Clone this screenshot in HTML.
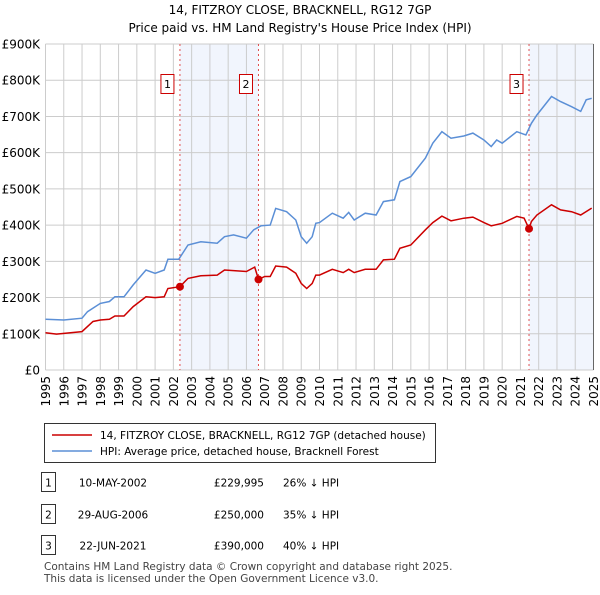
<!DOCTYPE html>
<html><head><meta charset="utf-8"><style>
body{margin:0;background:#fff;font-family:"Liberation Sans","DejaVu Sans",sans-serif;}
svg text{font-family:"DejaVu Sans","Liberation Sans",sans-serif;}
</style></head><body>
<svg id="c" width="600" height="590" xmlns="http://www.w3.org/2000/svg">
<text x="300" y="14" font-size="12" text-anchor="middle">14, FITZROY CLOSE, BRACKNELL, RG12 7GP</text>
<text x="300" y="32" font-size="12" text-anchor="middle">Price paid vs. HM Land Registry's House Price Index (HPI)</text>
<g id="plot"></g>
<g>
<rect x="44.5" y="423.5" width="391" height="39" fill="#fff" stroke="#333"/>
<line x1="52" y1="435" x2="92" y2="435" stroke="#cc0000" stroke-width="1.5"/>
<text x="100" y="439" font-size="10.5">14, FITZROY CLOSE, BRACKNELL, RG12 7GP (detached house)</text>
<line x1="52" y1="451" x2="92" y2="451" stroke="#5b8fd6" stroke-width="1.5"/>
<text x="100" y="455" font-size="10.5">HPI: Average price, detached house, Bracknell Forest</text>
</g>
<g id="table" font-size="10.5"></g>
<text x="44" y="570" font-size="10.5" fill="#444">Contains HM Land Registry data © Crown copyright and database right 2025.</text>
<text x="44" y="582" font-size="10.5" fill="#444">This data is licensed under the Open Government Licence v3.0.</text>
</svg>
<script>
const yTicks=[0,100,200,300,400,500,600,700,800,900];
const yTickLabels=["£0","£100K","£200K","£300K","£400K","£500K","£600K","£700K","£800K","£900K"];
const years=[1995,1996,1997,1998,1999,2000,2001,2002,2003,2004,2005,2006,2007,2008,2009,2010,2011,2012,2013,2014,2015,2016,2017,2018,2019,2020,2021,2022,2023,2024,2025];
const hpiT=[1995,1996,1997,1997.3,1998,1998.5,1998.8,1999.3,1999.8,2000.5,2001,2001.5,2001.7,2002.3,2002.8,2003.5,2004.4,2004.8,2005.3,2006,2006.4,2006.8,2007.3,2007.6,2008.2,2008.7,2009,2009.3,2009.6,2009.8,2010,2010.7,2011.3,2011.6,2011.9,2012.5,2013.1,2013.5,2014.1,2014.4,2015,2015.8,2016.2,2016.7,2017.2,2017.9,2018.4,2019,2019.4,2019.7,2020,2020.8,2021.3,2021.6,2021.9,2022.7,2023.2,2023.8,2024.3,2024.6,2024.9];
const hpiV=[140,138,143,161,184,189,202,202,235,276,267,276,306,306,345,354,350,368,373,364,387,398,400,446,437,414,368,350,368,405,407,433,419,435,414,433,428,465,470,520,534,585,626,658,640,646,654,635,617,635,626,658,649,681,704,755,741,727,714,746,750];
const priceT=[1995,1995.6,1997,1997.6,1998,1998.5,1998.8,1999.3,1999.8,2000.5,2001,2001.5,2001.7,2002.36,2002.8,2003.5,2004.4,2004.8,2006,2006.45,2006.66,2007,2007.3,2007.6,2008.2,2008.7,2009,2009.3,2009.6,2009.8,2010,2010.7,2011.3,2011.6,2011.9,2012.5,2013.1,2013.5,2014.1,2014.4,2015,2015.8,2016.2,2016.7,2017.2,2017.9,2018.4,2019,2019.4,2020,2020.8,2021.2,2021.47,2021.6,2021.9,2022.7,2023.2,2023.8,2024.3,2024.9];
const priceV=[103,99,106,134,138,140,149,149,175,202,200,202,225,230,253,260,262,276,272,284,250,258,258,287,284,267,239,225,239,262,262,278,269,278,269,278,278,304,306,336,345,387,407,425,412,419,422,407,398,405,424,419,390,410,428,456,442,437,428,447];
const saleIds=["1","2","3"];
const saleT=[2002.36,2006.66,2021.47];
const saleV=[229.995,250,390];
const saleDates=["10-MAY-2002","29-AUG-2006","22-JUN-2021"];
const salePrices=["£229,995","£250,000","£390,000"];
const saleHpi=["26% ↓ HPI","35% ↓ HPI","40% ↓ HPI"];

const NS="http://www.w3.org/2000/svg";
const X0=45.5,X1=593.5,Y0=370,Y1=44;
const xs=t=>X0+(t-1995)/30*(X1-X0);
const ys=v=>Y0-v/900*(Y0-Y1);
const plot=document.getElementById('plot');
function mk(tag,attrs,parent){const e=document.createElementNS(NS,tag);for(const k in attrs)e.setAttribute(k,attrs[k]);(parent||plot).appendChild(e);return e;}
// shading
[[saleT[0],saleT[1]],[saleT[2],2025]].forEach((s,i)=>{
 const r=mk('rect',{x:xs(s[0]),y:Y1,width:xs(s[1])-xs(s[0]),height:Y0-Y1,fill:'#eef3fd',opacity:0.8});
 
 
});
yTicks.forEach((v,i)=>{
 const l=mk('line',{x1:X0,x2:X1,y1:ys(v),y2:ys(v),stroke:'#ccc','stroke-width':1});
 
 
 const t=mk('text',{x:40,y:ys(v)+4.5,'font-size':12,'text-anchor':'end'});
 t.textContent=yTickLabels[i];
 
 
});
years.forEach(y=>{
 const l=mk('line',{x1:xs(y),x2:xs(y),y1:Y1,y2:Y0,stroke:'#ccc','stroke-width':1});
 
 
 const t=mk('text',{x:0,y:0,'font-size':12,'text-anchor':'end',transform:`translate(${xs(y)+4.5},376) rotate(-90)`});
 t.textContent=y;
 
 
});
const bl=mk('line',{x1:X1,x2:X1,y1:Y1,y2:Y0,stroke:'#666'});


saleT.forEach((t,i)=>{
 const l=mk('line',{x1:xs(t),x2:xs(t),y1:Y1,y2:Y0,stroke:'#e05050','stroke-dasharray':'2,3','stroke-width':1});
 
 
});
function path(T,V,color,name){
 const d=T.map((t,i)=>(i?'L':'M')+xs(t).toFixed(1)+','+ys(V[i]).toFixed(1)).join('');
 const p=mk('path',{d:d,fill:'none',stroke:color,'stroke-width':1.5});
 
 
}
path(hpiT,hpiV,'#5b8fd6','hpi-line');
path(priceT,priceV,'#cc0000','price-paid-line');
saleT.forEach((t,i)=>{
 const c=mk('circle',{cx:xs(t),cy:ys(saleV[i]),r:4,fill:'#cc0000'});
 
 
 const g=mk('g',{});
 
 
 mk('rect',{x:xs(t)-19,y:74.5,width:13,height:19,fill:'#fff',stroke:'#cc0000'},g);
 const tx=mk('text',{x:xs(t)-12.5,y:88,'font-size':11,'text-anchor':'middle'},g);
 tx.textContent=saleIds[i];
});
const tbl=document.getElementById('table');
const rowY=[483,515,546];
saleIds.forEach((id,i)=>{
 const g=mk('g',{},tbl);
 
 
 mk('rect',{x:41.5,y:rowY[i]-10.5,width:14,height:19,fill:'#fff',stroke:'#333'},g);
 const a=mk('text',{x:48.5,y:rowY[i]+3.5,'text-anchor':'middle'},g);a.textContent=id;
 const b=mk('text',{x:113,y:rowY[i]+3.5,'text-anchor':'middle'},g);b.textContent=saleDates[i];
 const c=mk('text',{x:264,y:rowY[i]+3.5,'text-anchor':'end'},g);c.textContent=salePrices[i];
 const d=mk('text',{x:283,y:rowY[i]+3.5},g);d.textContent=saleHpi[i];
});
</script>
</body></html>
